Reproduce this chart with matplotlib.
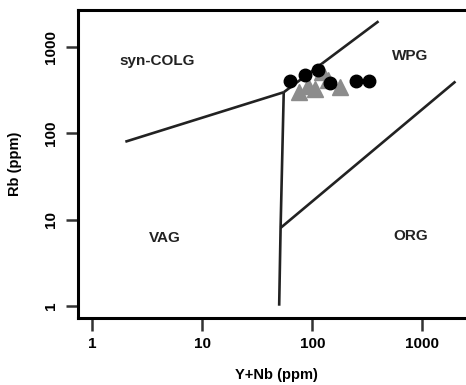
import numpy as np
import matplotlib.pyplot as plt
from matplotlib.ticker import FixedLocator, NullLocator

plt.rcParams['font.family'] = ['Liberation Sans', 'DejaVu Sans']

# sample data (Y+Nb, Rb) in ppm
circle_ynb = [63, 86, 113, 145, 251, 330]
circle_rb = [410, 481, 550, 380, 410, 410]
tri_ynb = [75, 92, 106, 123, 140, 180]
tri_rb = [298, 359, 331, 520, 420, 345]

# Pearce et al. (1984) field boundaries
b_vag_x = [2, 55]
b_vag_y = [80, 300]
b_wpg_x = [55, 400]
b_wpg_y = [300, 2000]
b_vert_x = [55, 51.5, 50]
b_vert_y = [300, 8, 1]
b_org_x = [51.5, 2000]
b_org_y = [8, 400]

fields = ["syn-COLG", "WPG", "VAG", "ORG"]
field_x = [3.9, 780, 4.6, 780]
field_y = [700, 790, 6.1, 6.4]

ticks = [1, 10, 100, 1000]
tick_labels = ["1", "10", "100", "1000"]

fig = plt.figure(figsize=(4.66, 3.85), dpi=100)
ax = fig.add_axes([0.167, 0.174, 0.852, 0.80])

for xs, ys in [(b_vag_x, b_vag_y), (b_wpg_x, b_wpg_y),
               (b_vert_x, b_vert_y), (b_org_x, b_org_y)]:
    ax.plot(xs, ys, color="#222222", lw=1.9, solid_capstyle="butt")

ax.plot(tri_ynb, tri_rb, "^", color="#8c8c8c", ms=11, mec="#8c8c8c")
ax.plot(circle_ynb, circle_rb, "o", color="black", ms=9)

for name, x, y in zip(fields, field_x, field_y):
    ax.text(x, y, name, fontsize=11, fontweight="bold", color="#222222",
            ha="center", va="center")

ax.set_xscale("log")
ax.set_yscale("log")
ax.set_xlim(0.74, 3000)
ax.set_ylim(0.72, 2700)

ax.xaxis.set_major_locator(FixedLocator(ticks))
ax.yaxis.set_major_locator(FixedLocator(ticks))
ax.xaxis.set_minor_locator(NullLocator())
ax.yaxis.set_minor_locator(NullLocator())
ax.set_xticklabels(tick_labels, fontsize=11, fontweight="bold")
ax.set_yticklabels(tick_labels, fontsize=11, fontweight="bold",
                   rotation=90, va="center")
ax.tick_params(direction="out", length=9, width=1.8, pad=5, color="#333333")

for sp in ax.spines.values():
    sp.set_linewidth(2.2)

ax.set_xlabel("Y+Nb (ppm)", fontsize=10.5, fontweight="bold", labelpad=12)
ax.set_ylabel("Rb (ppm)", fontsize=10.5, fontweight="bold", labelpad=16)

fig.savefig("out.png", dpi=100)
